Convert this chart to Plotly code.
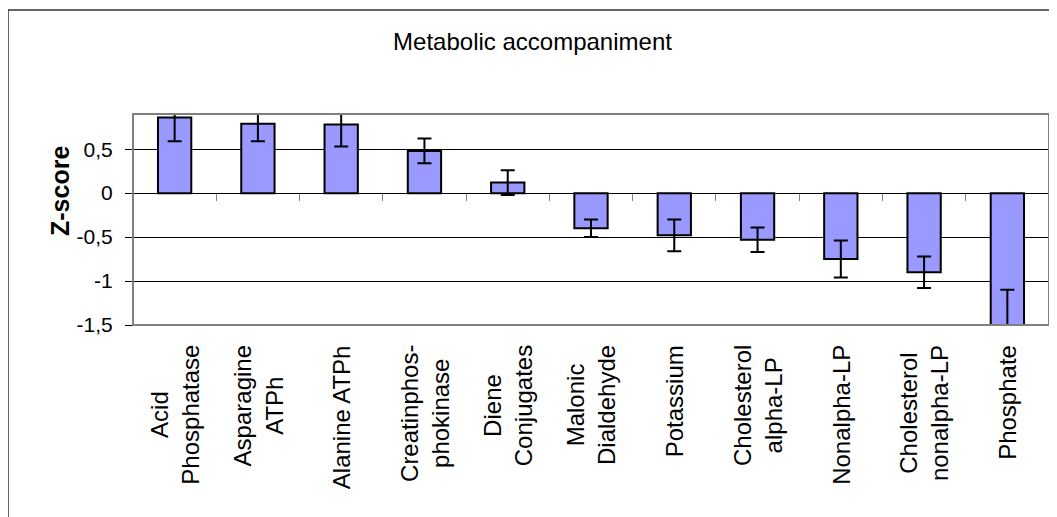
import plotly.graph_objects as go

categories = ["Acid<br>Phosphatase", "Asparagine<br>ATPh", "Alanine ATPh", "Creatinphos-<br>phokinase",
              "Diene<br>Conjugates", "Malonic<br>Dialdehyde", "Potassium", "Cholesterol<br>alpha-LP",
              "Nonalpha-LP", "Cholesterol<br>nonalpha-LP", "Phosphate"]
zscores = [0.86, 0.79, 0.78, 0.48, 0.12, -0.40, -0.48, -0.53, -0.75, -0.90, -1.52]
errors = [0.27, 0.20, 0.25, 0.14, 0.14, 0.10, 0.18, 0.14, 0.21, 0.18, 0.42]
ytick_vals = [-1.5, -1, -0.5, 0, 0.5]
ytick_text = ["-1,5", "-1", "-0,5", "0", "0,5"]

n = len(categories)
xs = list(range(n))
boundaries = [i - 0.5 for i in range(n + 1)]

# page body has an 8px margin; figure is sized to end at the window edge
OFF = 8
W, H = 1057 - OFF, 517 - OFF
L, R, T, B = 133 - OFF, 1057 - 1049, 114 - OFF, 517 - 325
PH = H - T - B
PW = W - L - R
FONT = "Liberation Sans, Arial, sans-serif"

fig = go.Figure()
fig.add_trace(go.Bar(
    x=xs, y=zscores,
    marker=dict(color="#9999FF", line=dict(color="black", width=2)),
    error_y=dict(type="data", array=errors, visible=True, color="black", thickness=2, width=7),
    width=0.4, showlegend=False, hoverinfo="y",
))
# invisible trace on a secondary x-axis that puts category-boundary ticks on the zero line
fig.add_trace(go.Scatter(x=[boundaries[0], boundaries[-1]], y=[0, 0], xaxis="x2", mode="lines",
                         line=dict(width=0), showlegend=False, hoverinfo="skip"))

ymin, ymax = -1.5, 0.9
zero_pos = (0 - ymin) / (ymax - ymin)

annotations = [
    dict(x=x, y=-18 / PH, xref="x", yref="paper", text=lab, showarrow=False,
         textangle=-90, xanchor="center", yanchor="top", align="center",
         font=dict(size=24, family=FONT, color="black"))
    for x, lab in zip(xs, categories)
]
# y-axis title
annotations.append(dict(x=(60 - 133) / PW, y=(325 - 191) / PH, xref="paper", yref="paper",
                        text="<b>Z-score</b>", showarrow=False, textangle=-90,
                        xanchor="center", yanchor="middle",
                        font=dict(size=25, family=FONT, color="black")))

fig.update_layout(
    width=W, height=H,
    margin=dict(l=L, r=R, t=T, b=B, autoexpand=False),
    paper_bgcolor="white", plot_bgcolor="white",
    font=dict(family=FONT, color="black"),
    title=dict(text="Metabolic accompaniment", x=0.5, xanchor="center", xref="container",
               y=1 - (42 - OFF) / H, yanchor="middle", yref="container",
               font=dict(size=24, family=FONT, color="black")),
    xaxis=dict(range=[-0.5, n - 0.5], tickmode="array", tickvals=xs,
               showticklabels=False, ticks="", showgrid=False, zeroline=False,
               showline=False, fixedrange=True),
    xaxis2=dict(overlaying="x", anchor="free", position=zero_pos,
                range=[-0.5, n - 0.5], tickmode="array", tickvals=boundaries,
                ticks="outside", ticklen=7, tickwidth=1, tickcolor="#808080",
                showticklabels=False, showgrid=False, zeroline=False, showline=False),
    yaxis=dict(range=[ymin, ymax], tickmode="array", tickvals=ytick_vals, ticktext=ytick_text,
               tickfont=dict(size=21, family=FONT, color="black"),
               ticks="outside", ticklen=7, tickcolor="black", ticklabelstandoff=8,
               showgrid=True, gridcolor="black", gridwidth=1,
               zeroline=True, zerolinecolor="black", zerolinewidth=1,
               showline=False),
    annotations=annotations,
    shapes=[
        dict(type="rect", xref="paper", yref="paper", x0=0, x1=1, y0=0, y1=1,
             line=dict(color="#808080", width=2), fillcolor="rgba(0,0,0,0)", layer="above"),
        dict(type="rect", xref="paper", yref="paper",
             x0=(0 - L) / PW, x1=1.2,
             y0=-2, y1=(PH + T - 2) / PH,
             line=dict(color="#333333", width=1.5), fillcolor="rgba(0,0,0,0)", layer="above"),
    ],
    bargap=0.6,
)

fig.write_html("out.html")
